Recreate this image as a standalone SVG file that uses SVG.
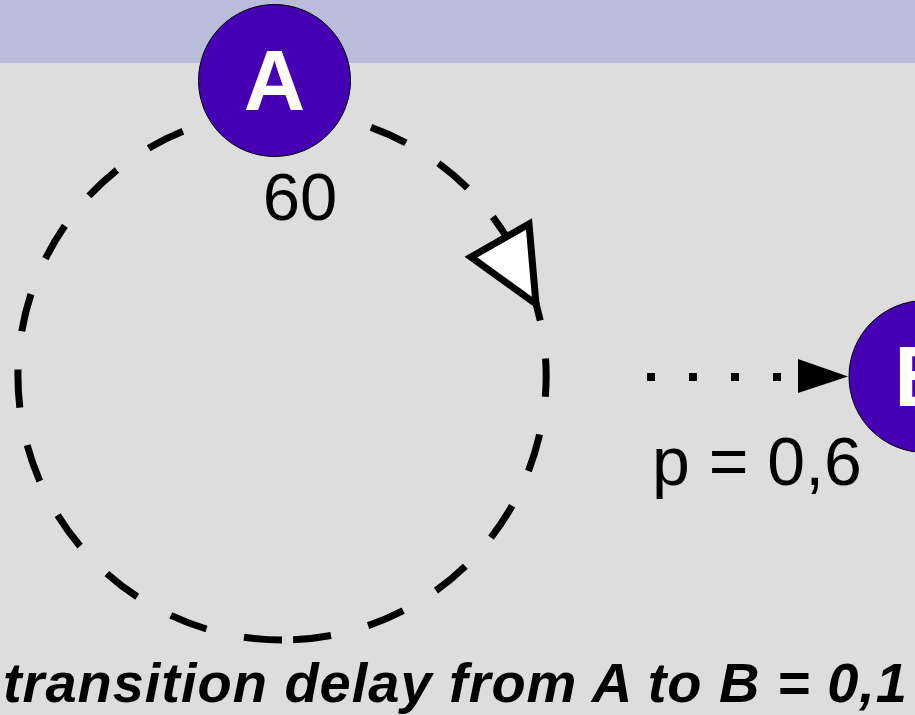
<svg xmlns="http://www.w3.org/2000/svg" width="915" height="715" viewBox="0 0 915 715">
  <style>
    .node { fill: #4600b4; stroke: #000000; stroke-width: 1; }
    .nlabel { font-family: "Liberation Sans", Arial, sans-serif; font-weight: bold; font-size: 85px; fill: #ffffff; text-anchor: middle; }
    .lbl { font-family: "Liberation Sans", Arial, sans-serif; font-size: 67px; fill: #000000; }
    .loop { fill: none; stroke: #000000; stroke-width: 7; stroke-dasharray: 38.2 38.4; stroke-linecap: butt; }
    .dots { fill: none; stroke: #000000; stroke-width: 8; stroke-dasharray: 8 34; stroke-linecap: butt; }
    .caption { font-family: "Liberation Sans", Arial, sans-serif; font-weight: bold; font-style: italic; font-size: 56px; fill: #000000; }
  </style>
  <rect x="0" y="0" width="915" height="715" fill="#dddddd"/>
  <rect x="0" y="0" width="915" height="63" fill="#b9bdd9"/>
  <g id="connectors">
    <path class="loop" d="M 282 640 A 264 264 0 0 1 191.7 127.9"/>
    <path class="loop" d="M 293.1 639.8 A 264 264 0 0 0 363.6 124.9"/>
    <polygon points="471,257 529,224 536,304" fill="#ffffff" stroke="#000000" stroke-width="7" stroke-linejoin="miter"/>
    <line class="dots" x1="647" y1="377" x2="800" y2="377"/>
    <polygon points="798,359 848,376.5 798,393" fill="#000000"/>
  </g>
  <g id="node-A">
    <circle class="node" cx="274.5" cy="80.5" r="76"/>
    <text class="nlabel" x="274.5" y="110">A</text>
  </g>
  <g id="node-B">
    <circle class="node" cx="925" cy="376.5" r="76"/>
    <text class="nlabel" x="925" y="406">B</text>
  </g>
  <g id="labels">
    <text class="lbl" x="300" y="220" text-anchor="middle">60</text>
    <text class="lbl" x="652" y="485" style="font-size:68px">p = 0,6</text>
    <text class="caption" x="3" y="702" textLength="904">transition delay from A to B = 0,1</text>
  </g>
</svg>
